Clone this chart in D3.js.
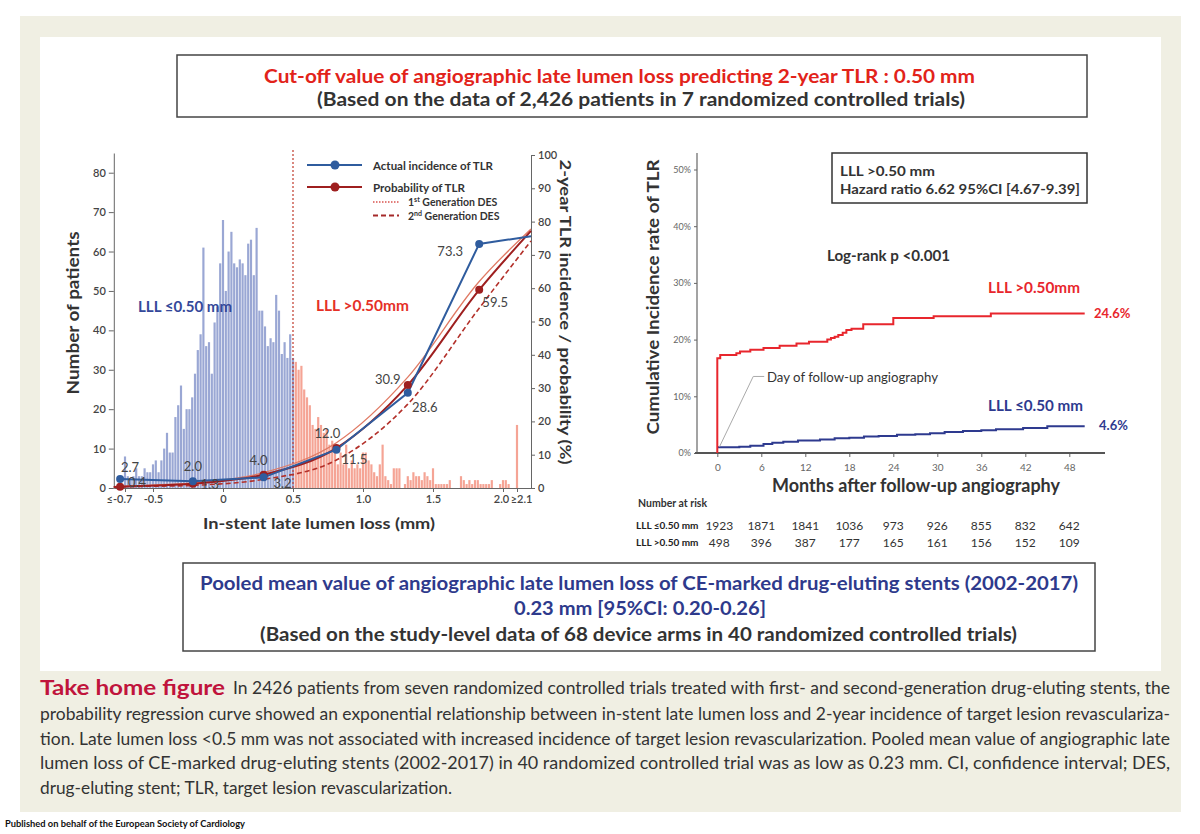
<!DOCTYPE html>
<html>
<head>
<meta charset='utf-8'>
<title>Late lumen loss and TLR</title>
<script src='https://cdn.jsdelivr.net/npm/d3@7'></script>
<style>
    body { margin:0; background:#fff; }
    svg text { font-family: Lato, 'Open Sans', sans-serif; }
    .tick line { stroke:#666; }
    .domain { stroke:#666; }
</style>
</head>
<body>
<script>
// ---- left panel: histogram of in-stent late lumen loss (0.02 mm bins) ----
// first bin holds everything <= -0.7, last bin everything >= 2.1
var binStart = -0.70;
var binStep = 0.02;
var cutoff = 0.50;
var histLow = [8,3,2,3,5,3,3,5,4,4,6,7,4,7,10,14,9,9,18,21,26,15,20,20,23,29,35,39,
               61,36,37,29,42,46,57,68,50,60,65,57,56,58,57,54,62,63,54,66,
               45,45,41,36,38,37,49,45,34,37,33,39,33];
var histHigh = [32,30,31,25,23,21,16,15,18,16,14,15,11,12,
                9,6,9,6,11,5,7,5,6,5,9,9,7,6,4,3,6,11,3,2,1,5,5,5,
                0,1,3,2,4,3,3,2,4,3,2,5,1,1,1,1,1,2,0,0,0,3,2,1,2,1,2,2,1,1,1,1,2,0,0,1,2,2,1,0,0,16];

// actual incidence and fitted probability of 2-year TLR (%)
var pointLLL = [-0.735, -0.215, 0.29, 0.81, 1.32, 1.83];
var actualTLR = [2.7, 2.0, 3.2, 11.5, 28.6, 73.3];
var probTLR = [0.4, 1.3, 4.0, 12.0, 30.9, 59.5];
var actualEnd = [2.2, 75.6];
var curveLLL = [-0.78, -0.735, -0.215, 0.29, 0.81, 1.32, 1.83, 2.2];
var probCurve = [0.3, 0.4, 1.3, 4.0, 12.0, 30.9, 59.5, 77.2];
var gen1Curve = [0.4, 0.5, 1.5, 4.6, 13.6, 33.3, 62.0, 77.8];
var gen2Curve = [0.2, 0.3, 0.8, 2.6, 8.4, 25.2, 54.0, 74.2];

var xTicks = [-0.7, -0.5, 0, 0.5, 1.0, 1.5, 2.0, 2.1];
var xTickText = ["\u2264-0.7", "-0.5", "0", "0.5", "1.0", "1.5", "2.0", "\u22652.1"];

// ---- right panel: cumulative incidence of TLR after follow-up angiography ----
var highMonths = [0, 0, 0.4, 2.6, 3.1, 4.5, 6.3, 8.5, 10.8, 12.5, 15.0, 15.5, 16.0, 16.5, 17.1, 17.6, 18.3, 19.9, 24.0, 29.5, 37.3, 50.1];
var highCum =    [0, 16.7, 17.3, 17.6, 17.9, 18.2, 18.5, 18.9, 19.3, 19.6, 20.0, 20.3, 20.5, 20.8, 21.2, 21.7, 21.9, 22.7, 23.8, 24.1, 24.6, 24.6];
var lowMonths = [0, 3, 4.5, 6.3, 7.5, 9, 11, 14, 16, 18, 20, 22, 24.5, 27, 29, 31, 33.5, 36, 38, 41.7, 45, 50.1];
var lowCum =    [1.0, 1.1, 1.3, 1.6, 1.8, 2.0, 2.2, 2.4, 2.6, 2.7, 2.9, 3.0, 3.2, 3.3, 3.5, 3.7, 3.9, 4.0, 4.2, 4.4, 4.7, 4.7];
var riskMonths = [0, 6, 12, 18, 24, 30, 36, 42, 48];
var riskLow = [1923, 1871, 1841, 1036, 973, 926, 855, 832, 642];
var riskHigh = [498, 396, 387, 177, 165, 161, 156, 152, 109];

var blue = "#2f5c9e", darkRed = "#9e1f1f", navy = "#2e3a8f", red = "#e8262d";

var svg = d3.select("body").append("svg")
            .attr("width", 1200)
            .attr("height", 834);

// background panels
svg.append("rect").attr("x", 20).attr("y", 16).attr("width", 1161).attr("height", 796).attr("fill", "#f0efe3");
svg.append("rect").attr("x", 40).attr("y", 37).attr("width", 1121).attr("height", 634).attr("fill", "#fff");

function txt(x, y, s, size, weight, color, len) {
    var t = svg.append("text")
        .attr("x", x).attr("y", y)
        .attr("dominant-baseline", "central")
        .attr("font-size", size + "px")
        .attr("font-weight", weight)
        .attr("fill", color)
        .text(s);
    if (len) t.attr("textLength", len).attr("lengthAdjust", "spacingAndGlyphs");
    return t;
}

// top box
svg.append("rect").attr("x", 177).attr("y", 55).attr("width", 910).attr("height", 62)
    .attr("fill", "#fff").attr("stroke", "#444").attr("stroke-width", 1.5);
txt(264, 76, "Cut-off value of angiographic late lumen loss predicting 2-year TLR : 0.50 mm", 18, "bold", "#e2231a", 711);
txt(317, 99, "(Based on the data of 2,426 patients in 7 randomized controlled trials)", 18, "bold", "#333", 648);

// ================= left chart =================
var x = d3.scaleLinear().domain([-0.78, 2.2]).range([113.8, 531]);
var yN = d3.scaleLinear().domain([0, 85]).range([488, 153]);
var yP = d3.scaleLinear().domain([0, 100]).range([488, 155]);

var hist = histLow.concat(histHigh).map(function(n, i) {
    return {lll: +(binStart + i * binStep).toFixed(2), n: n};
});
var bw = (x(binStep) - x(0)) * 0.78;

svg.append("g").selectAll("rect")
    .data(hist)
    .enter()
    .append("rect")
    .attr("x", function(d) { return x(d.lll) - bw / 2; })
    .attr("y", function(d) { return yN(d.n); })
    .attr("width", bw)
    .attr("height", function(d) { return yN(0) - yN(d.n); })
    .attr("fill", function(d) { return d.lll <= cutoff ? "#9aa7d4" : "#f5a495"; });

// axes
var gl = svg.append("g").attr("transform", "translate(" + x.range()[0] + ",0)");
gl.call(d3.axisLeft(yN).tickValues(d3.range(0, 86, 1)).tickSize(2.5).tickSizeOuter(0).tickFormat(""));
gl.call(d3.axisLeft(yN).tickValues(d3.range(0, 81, 10)).tickSize(5).tickSizeOuter(0));
gl.selectAll("text").attr("font-size", "11px").attr("fill", "#444").attr("font-weight", 600);

var gr = svg.append("g").attr("transform", "translate(" + x.range()[1] + ",0)");
gr.call(d3.axisRight(yP).tickValues(d3.range(0, 101, 10)).tickSize(4).tickSizeOuter(0));
gr.selectAll("text").attr("font-size", "11px").attr("fill", "#444").attr("font-weight", 600);

var gx = svg.append("g").attr("transform", "translate(0," + yN(0) + ")");
gx.call(d3.axisBottom(x).tickValues(d3.range(-7, 22, 1).map(function(v) { return v / 10; })).tickSize(2.5).tickSizeOuter(0).tickFormat(""));
gx.call(d3.axisBottom(x).tickValues(xTicks).tickSize(4).tickSizeOuter(0)
        .tickFormat(function(d, i) { return xTickText[i]; }));
gx.selectAll("text").attr("font-size", "11px").attr("fill", "#444").attr("font-weight", 600);
gx.selectAll(".tick text").filter(function(d) { return d === -0.7; }).attr("dx", -6);
gx.selectAll(".tick text").filter(function(d) { return d === 2.1; }).attr("dx", 4);
gx.selectAll(".tick text").filter(function(d) { return d === 2.0; }).attr("dx", -2);

// cut-off line
svg.append("line")
    .attr("x1", x(cutoff)).attr("x2", x(cutoff))
    .attr("y1", 150).attr("y2", yN(0))
    .attr("stroke", "#c0392b").attr("stroke-width", 1.2).attr("stroke-dasharray", "2,2");

// curves
var pline = d3.line()
    .x(function(d) { return x(d[0]); })
    .y(function(d) { return yP(d[1]); })
    .curve(d3.curveMonotoneX);
var aline = d3.line()
    .x(function(d) { return x(d[0]); })
    .y(function(d) { return yP(d[1]); });

svg.append("path").attr("d", pline(d3.zip(curveLLL, gen1Curve)))
    .attr("fill", "none").attr("stroke", "#e07a64").attr("stroke-width", 1.3);
svg.append("path").attr("d", pline(d3.zip(curveLLL, gen2Curve)))
    .attr("fill", "none").attr("stroke", "#b3302a").attr("stroke-width", 1.6).attr("stroke-dasharray", "5,3");
svg.append("path").attr("d", pline(d3.zip(curveLLL, probCurve)))
    .attr("fill", "none").attr("stroke", darkRed).attr("stroke-width", 2);
svg.append("path").attr("d", aline(d3.zip(pointLLL, actualTLR).concat([actualEnd])))
    .attr("fill", "none").attr("stroke", blue).attr("stroke-width", 2);

svg.append("g").selectAll("circle")
    .data(d3.zip(pointLLL, probTLR))
    .enter().append("circle")
    .attr("cx", function(d) { return x(d[0]); })
    .attr("cy", function(d) { return yP(d[1]); })
    .attr("r", 4).attr("fill", darkRed);
svg.append("g").selectAll("circle")
    .data(d3.zip(pointLLL, actualTLR))
    .enter().append("circle")
    .attr("cx", function(d) { return x(d[0]); })
    .attr("cy", function(d) { return yP(d[1]); })
    .attr("r", 4).attr("fill", blue);

// value labels (offsets from their points)
var actualOff = [[10, -12], [0, -15], [19, 6], [18, 9], [17, 14], [-29, 7]];
var probOff = [[17, -5], [17, 0], [-5, -15], [-9, -15], [-20, -6], [16, 12]];
function valueLabels(vals, off) {
    svg.append("g").selectAll("text")
        .data(vals)
        .enter().append("text")
        .attr("x", function(d, i) { return x(pointLLL[i]) + off[i][0]; })
        .attr("y", function(d, i) { return yP(d) + off[i][1]; })
        .attr("text-anchor", "middle")
        .attr("dominant-baseline", "central")
        .attr("font-size", "13px")
        .attr("fill", "#444")
        .text(function(d) { return d.toFixed(1); });
}
valueLabels(actualTLR, actualOff);
valueLabels(probTLR, probOff);

// legend
var lg = svg.append("g");
lg.append("line").attr("x1", 307).attr("x2", 362).attr("y1", 165).attr("y2", 165).attr("stroke", blue).attr("stroke-width", 2);
lg.append("circle").attr("cx", 335).attr("cy", 165).attr("r", 4.5).attr("fill", blue);
lg.append("line").attr("x1", 307).attr("x2", 362).attr("y1", 187).attr("y2", 187).attr("stroke", darkRed).attr("stroke-width", 2);
lg.append("circle").attr("cx", 335).attr("cy", 187).attr("r", 4.5).attr("fill", darkRed);
lg.append("line").attr("x1", 373).attr("x2", 399).attr("y1", 202).attr("y2", 202).attr("stroke", "#d9534f").attr("stroke-width", 1.3).attr("stroke-dasharray", "1.5,1.5");
lg.append("line").attr("x1", 373).attr("x2", 399).attr("y1", 215.5).attr("y2", 215.5).attr("stroke", "#a52a2a").attr("stroke-width", 1.8).attr("stroke-dasharray", "5,3");
txt(373, 165, "Actual incidence of TLR", 12, "bold", "#333", 120);
txt(373, 187, "Probability of TLR", 12, "bold", "#333", 92);
var g1 = txt(408, 202, "1", 10.5, "bold", "#333");
g1.append("tspan").attr("font-size", "7px").attr("dy", -3).text("st");
g1.append("tspan").attr("dy", 3).text(" Generation DES");
var g2 = txt(408, 215.5, "2", 10.5, "bold", "#333");
g2.append("tspan").attr("font-size", "7px").attr("dy", -3).text("nd");
g2.append("tspan").attr("dy", 3).text(" Generation DES");

txt(138, 306, "LLL \u22640.50 mm", 15, "bold", "#34489a", 94);
txt(316, 305, "LLL >0.50mm", 15, "bold", "#e53027", 93);

txt(0, 0, "Number of patients", 17, "bold", "#333", 163)
    .attr("text-anchor", "middle").attr("transform", "translate(72,313) rotate(-90)");
txt(0, 0, "2-year TLR incidence / probability  (%)", 16, "bold", "#333", 305)
    .attr("text-anchor", "middle").attr("transform", "translate(566,312) rotate(90)");
txt(319, 522, "In-stent late lumen loss (mm)", 16, "bold", "#333", 232).attr("text-anchor", "middle");

// ================= right chart =================
var xm = d3.scaleLinear().domain([0, 48]).range([717.3, 1069.3]);
var yc = d3.scaleLinear().domain([0, 50]).range([453, 169.5]);

var gy = svg.append("g").attr("transform", "translate(697,0)");
gy.call(d3.axisLeft(yc).tickValues([0, 10, 20, 30, 40, 50]).tickSize(3).tickSizeOuter(0)
        .tickFormat(function(d) { return d + "%"; }));
gy.select(".domain").remove();
gy.selectAll("text").attr("font-size", "9px").attr("fill", "#666");
svg.append("line").attr("x1", 697).attr("x2", 697).attr("y1", 153).attr("y2", 453)
    .attr("stroke", "#666").attr("stroke-width", 1.2);

var gm = svg.append("g").attr("transform", "translate(0,453)");
gm.call(d3.axisBottom(xm).tickValues(riskMonths).tickSize(4).tickSizeOuter(0));
gm.select(".domain").remove();
gm.selectAll("text").attr("font-size", "10px").attr("fill", "#666").attr("dy", "1.1em");
svg.append("line").attr("x1", 695).attr("x2", 1105).attr("y1", 453).attr("y2", 453)
    .attr("stroke", "#555").attr("stroke-width", 2);

var kmLine = d3.line()
    .x(function(d) { return xm(d[0]); })
    .y(function(d) { return yc(d[1]); })
    .curve(d3.curveStepAfter);

svg.append("path").attr("d", kmLine(d3.zip(lowMonths, lowCum)))
    .attr("fill", "none").attr("stroke", navy).attr("stroke-width", 2);
svg.append("path").attr("d", kmLine(d3.zip(highMonths, highCum)))
    .attr("fill", "none").attr("stroke", red).attr("stroke-width", 2);

// annotation for day of follow-up angiography
svg.append("path")
    .attr("d", d3.line()([[xm(0.3), yc(1.1)], [xm(4.9), yc(13.5)], [xm(6.4), yc(13.5)]]))
    .attr("fill", "none").attr("stroke", "#aaa").attr("stroke-width", 1);
txt(767, 376.5, "Day of follow-up angiography", 14, "normal", "#333", 171);

svg.append("rect").attr("x", 832).attr("y", 153).attr("width", 255).attr("height", 50)
    .attr("fill", "#fff").attr("stroke", "#333").attr("stroke-width", 1.5);
txt(840, 170, "LLL >0.50 mm", 14, "bold", "#333", 95);
txt(840, 188, "Hazard ratio 6.62 95%CI [4.67-9.39]", 14, "bold", "#333", 240);
txt(827, 255, "Log-rank p <0.001", 15, "bold", "#333", 123);
txt(988, 287, "LLL >0.50mm", 15, "bold", red, 92);
txt(1094, 313, "24.6%", 13, "bold", red);
txt(988, 405, "LLL \u22640.50 mm", 15, "bold", navy, 95);
txt(1099, 424.5, "4.6%", 13, "bold", navy);

txt(0, 0, "Cumulative Incidence rate of TLR", 17, "bold", "#333", 275)
    .attr("text-anchor", "middle").attr("transform", "translate(652,297) rotate(-90)");
txt(916, 485, "Months after follow-up angiography", 18, "bold", "#333", 288).attr("text-anchor", "middle");

// number at risk
txt(638, 503, "Number at risk", 10.5, "bold", "#333");
txt(636, 525, "LLL \u22640.50 mm", 10, "bold", "#222");
txt(636, 542, "LLL >0.50 mm", 10, "bold", "#222");
[riskLow, riskHigh].forEach(function(row, r) {
    svg.append("g").selectAll("text")
        .data(row)
        .enter().append("text")
        .attr("x", function(d, i) { return xm(riskMonths[i]) + (i === 0 ? 2 : 0); })
        .attr("y", r === 0 ? 525 : 542)
        .attr("text-anchor", "middle")
        .attr("dominant-baseline", "central")
        .attr("font-size", "12px")
        .attr("fill", "#333")
        .text(function(d) { return d; });
});

// bottom box
svg.append("rect").attr("x", 183).attr("y", 563).attr("width", 912).attr("height", 88)
    .attr("fill", "#fff").attr("stroke", "#444").attr("stroke-width", 1.5);
txt(200, 582, "Pooled mean value of angiographic late lumen loss of CE-marked drug-eluting stents (2002-2017)", 19, "bold", "#2e3a8c", 878);
txt(514, 607, "0.23 mm [95%CI: 0.20-0.26]", 19, "bold", "#2e3a8c", 252);
txt(260, 633, "(Based on the study-level data of 68 device arms in 40 randomized controlled trials)", 19, "bold", "#333", 757);

// caption
txt(40, 687, "Take home figure", 20, "bold", "#c0143c", 185);
txt(233, 687, "In 2426 patients from seven randomized controlled trials treated with first- and second-generation drug-eluting stents, the", 17.5, "normal", "#333", 937);
txt(40, 713, "probability regression curve showed an exponential relationship between in-stent late lumen loss and 2-year incidence of target lesion revasculariza-", 17.5, "normal", "#333", 1130);
txt(40, 738, "tion. Late lumen loss <0.5 mm was not associated with increased incidence of target lesion revascularization. Pooled mean value of angiographic late", 17.5, "normal", "#333", 1130);
txt(40, 762, "lumen loss of CE-marked drug-eluting stents (2002-2017) in 40 randomized controlled trial was as low as 0.23 mm. CI, confidence interval; DES,", 17.5, "normal", "#333", 1130);
txt(40, 787, "drug-eluting stent; TLR, target lesion revascularization.", 17.5, "normal", "#333", 412);

txt(5, 823, "Published on behalf of the European Society of Cardiology", 9.5, "bold", "#111", 240);
</script>
</body>
</html>
